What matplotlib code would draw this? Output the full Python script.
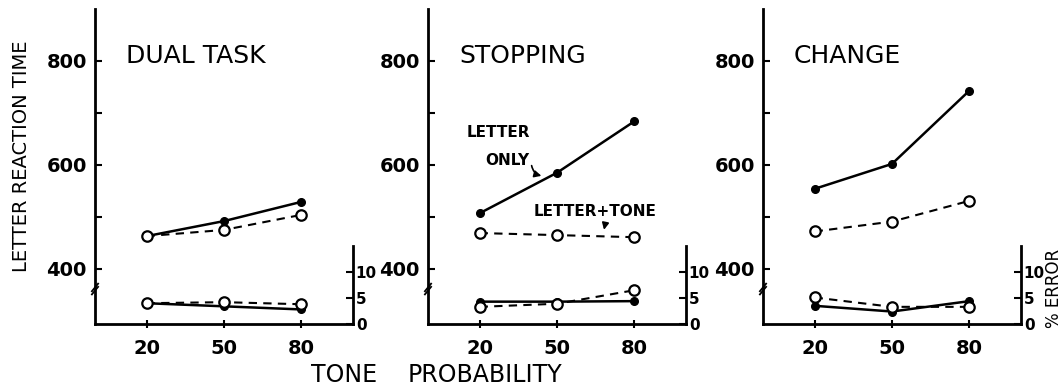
import matplotlib.pyplot as plt

# tone probability (%)
tone_prob = [20, 50, 80]

# letter reaction time (ms)
dual_rt_letter_only = [463, 492, 529]
dual_rt_letter_tone = [463, 475, 504]
stop_rt_letter_only = [507, 585, 684]
stop_rt_letter_tone = [469, 465, 461]
change_rt_letter_only = [554, 602, 743]
change_rt_letter_tone = [472, 491, 531]

# % error
dual_err_letter_only = [4.0, 3.4, 2.8]
dual_err_letter_tone = [4.0, 4.2, 3.8]
stop_err_letter_only = [4.3, 4.3, 4.4]
stop_err_letter_tone = [3.3, 3.9, 6.5]
change_err_letter_only = [3.5, 2.4, 4.4]
change_err_letter_tone = [5.1, 3.3, 3.3]

titles = ["DUAL TASK", "STOPPING", "CHANGE"]
rt_ticks = [400, 500, 600, 700, 800]
rt_labels = ["400", "", "600", "", "800"]
err_ticks = [0, 5, 10]

panels = [
    (dual_rt_letter_only, dual_rt_letter_tone, dual_err_letter_only, dual_err_letter_tone),
    (stop_rt_letter_only, stop_rt_letter_tone, stop_err_letter_only, stop_err_letter_tone),
    (change_rt_letter_only, change_rt_letter_tone, change_err_letter_only, change_err_letter_tone),
]

FIG_W, FIG_H = 1062, 392
lefts_px = [95, 428, 763]
width_px = 258
bottom_px = 324
height_px = 315

solid_style = dict(ls='-', color='black', lw=1.8, marker='o', ms=5.5,
                   mfc='black', mec='black')
dashed_style = dict(ls='--', color='black', lw=1.5, dashes=(4, 3), marker='o',
                    ms=7.5, mfc='white', mec='black', mew=1.6)


def draw_panel(fig, left_px, data, title):
    rt_only, rt_tone, err_only, err_tone = data
    ax = fig.add_axes([left_px / FIG_W, (FIG_H - bottom_px) / FIG_H,
                       width_px / FIG_W, height_px / FIG_H])
    ax.set_xlim(0, 100)
    ax.set_ylim(294, 900)
    for s in ['top', 'right']:
        ax.spines[s].set_visible(False)
    for s in ['left', 'bottom']:
        ax.spines[s].set_linewidth(2)

    ax.plot(tone_prob, rt_only, **solid_style)
    ax.plot(tone_prob, rt_tone, **dashed_style)

    ax.set_xticks(tone_prob)
    ax.set_xticklabels([str(v) for v in tone_prob], fontsize=14, fontweight='bold')
    ax.set_yticks(rt_ticks)
    ax.set_yticklabels(rt_labels, fontsize=14, fontweight='bold')
    ax.tick_params(axis='x', direction='inout', length=6, width=1.5, pad=8)
    ax.tick_params(axis='y', direction='in', length=5, width=1.5, pad=6)

    # axis break on the RT scale
    ax.plot([-0.012, 0.012], [0.104, 0.128], transform=ax.transAxes,
            color='black', lw=1.3, clip_on=False)
    ax.plot([-0.012, 0.012], [0.094, 0.118], transform=ax.transAxes,
            color='black', lw=1.3, clip_on=False)

    ax.text(0.12, 0.85, title, transform=ax.transAxes, fontsize=18,
            va='center', ha='left')

    # error scale on the right
    ax2 = ax.twinx()
    ax2.set_ylim(0, 60.6)
    for s in ['top', 'left', 'bottom']:
        ax2.spines[s].set_visible(False)
    ax2.spines['right'].set_bounds(0, 15)
    ax2.spines['right'].set_linewidth(2)
    ax2.plot(tone_prob, err_only, **solid_style)
    ax2.plot(tone_prob, err_tone, **dashed_style)
    ax2.set_yticks(err_ticks)
    ax2.set_yticklabels([str(v) for v in err_ticks], fontsize=11, fontweight='bold')
    ax2.tick_params(axis='y', direction='in', length=5, width=1.5, pad=2)
    return ax, ax2


fig = plt.figure(figsize=(FIG_W / 100, FIG_H / 100), dpi=100)

axes = []
for left, data, title in zip(lefts_px, panels, titles):
    axes.append(draw_panel(fig, left, data, title))

# labels for the two curves in the STOPPING panel
ax_stop = axes[1][0]
ax_stop.text(15, 663, "LETTER", fontsize=11, fontweight='bold', va='center')
ax_stop.text(22, 609, "ONLY", fontsize=11, fontweight='bold', va='center')
ax_stop.annotate("", xy=(45, 578), xytext=(40, 604),
                 arrowprops=dict(arrowstyle='-|>', color='black', lw=1.2,
                                 connectionstyle='arc3,rad=0.4'))
ax_stop.text(41, 511, "LETTER+TONE", fontsize=11, fontweight='bold', va='center')
ax_stop.annotate("", xy=(68, 470), xytext=(69, 494),
                 arrowprops=dict(arrowstyle='-|>', color='black', lw=1.2))

fig.text(22 / FIG_W, (FIG_H - 156) / FIG_H, "LETTER REACTION TIME", rotation=90,
         fontsize=14, ha='center', va='center')
fig.text(311 / FIG_W, (FIG_H - 375) / FIG_H, "TONE", fontsize=17, ha='left', va='center')
fig.text(408 / FIG_W, (FIG_H - 375) / FIG_H, "PROBABILITY", fontsize=17, ha='left', va='center')
fig.text(1054 / FIG_W, (FIG_H - 288) / FIG_H, "% ERROR", rotation=90,
         fontsize=12, ha='center', va='center')

fig.savefig("out.png", dpi=100)
